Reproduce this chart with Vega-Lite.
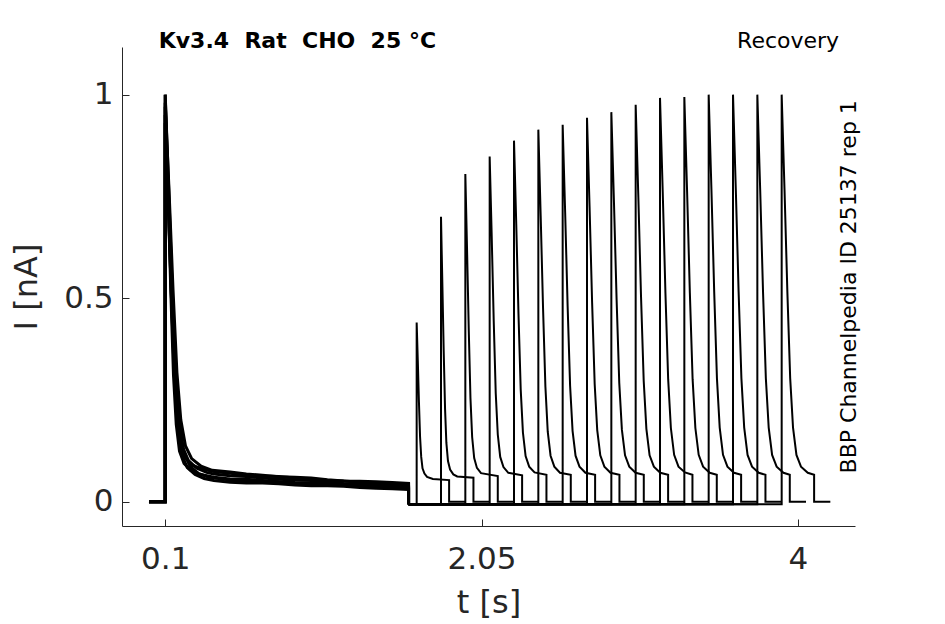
{
  "$schema": "https://vega.github.io/schema/vega-lite/v6.json",
  "width": 733,
  "height": 479,
  "autosize": {"type": "none"},
  "padding": {"left": 122, "top": 47, "right": 90, "bottom": 98},
  "background": "white",
  "config": {
    "view": {"stroke": null},
    "axis": {
      "grid": false,
      "domainColor": "#262626",
      "domainWidth": 1,
      "tickColor": "#262626",
      "tickWidth": 1,
      "tickSize": -7,
      "labelFont": "DejaVu Sans",
      "labelFontSize": 31,
      "labelColor": "#262626",
      "titleFont": "DejaVu Sans",
      "titleFontSize": 32,
      "titleFontWeight": "normal",
      "titleColor": "#262626"
    }
  },
  "datasets": {
    "traces": [
      {"trace":"f1","n":0,"t":0,"i":0},{"trace":"f1","n":1,"t":0.1,"i":0},{"trace":"f1","n":2,"t":0.1,"i":1.0},{"trace":"f1","n":3,"t":0.117,"i":0.771},{"trace":"f1","n":4,"t":0.134,"i":0.523},{"trace":"f1","n":5,"t":0.151,"i":0.311},{"trace":"f1","n":6,"t":0.168,"i":0.19},{"trace":"f1","n":7,"t":0.188,"i":0.124},{"trace":"f1","n":8,"t":0.216,"i":0.094},{"trace":"f1","n":9,"t":0.256,"i":0.078},{"trace":"f1","n":10,"t":0.304,"i":0.068},{"trace":"f1","n":11,"t":0.4,"i":0.06},{"trace":"f1","n":12,"t":0.5,"i":0.056},{"trace":"f1","n":13,"t":0.6,"i":0.055},{"trace":"f1","n":14,"t":0.7,"i":0.052},{"trace":"f1","n":15,"t":0.8,"i":0.049},{"trace":"f1","n":16,"t":0.9,"i":0.047},{"trace":"f1","n":17,"t":1.0,"i":0.046},{"trace":"f1","n":18,"t":1.1,"i":0.044},{"trace":"f1","n":19,"t":1.2,"i":0.041},{"trace":"f1","n":20,"t":1.3,"i":0.04},{"trace":"f1","n":21,"t":1.4,"i":0.039},{"trace":"f1","n":22,"t":1.5,"i":0.037},{"trace":"f1","n":23,"t":1.6,"i":0.035},{"trace":"f1","n":24,"t":1.6,"i":-0.006},
      {"trace":"f2","n":0,"t":0,"i":0},{"trace":"f2","n":1,"t":0.1,"i":0},{"trace":"f2","n":2,"t":0.1,"i":0.97},{"trace":"f2","n":3,"t":0.1185,"i":0.752},{"trace":"f2","n":4,"t":0.137,"i":0.516},{"trace":"f2","n":5,"t":0.1555,"i":0.314},{"trace":"f2","n":6,"t":0.174,"i":0.198},{"trace":"f2","n":7,"t":0.196,"i":0.136},{"trace":"f2","n":8,"t":0.226,"i":0.107},{"trace":"f2","n":9,"t":0.27,"i":0.089},{"trace":"f2","n":10,"t":0.322,"i":0.081},{"trace":"f2","n":11,"t":0.4,"i":0.074},{"trace":"f2","n":12,"t":0.5,"i":0.07},{"trace":"f2","n":13,"t":0.6,"i":0.065},{"trace":"f2","n":14,"t":0.7,"i":0.063},{"trace":"f2","n":15,"t":0.8,"i":0.062},{"trace":"f2","n":16,"t":0.9,"i":0.058},{"trace":"f2","n":17,"t":1.0,"i":0.054},{"trace":"f2","n":18,"t":1.1,"i":0.052},{"trace":"f2","n":19,"t":1.2,"i":0.051},{"trace":"f2","n":20,"t":1.3,"i":0.048},{"trace":"f2","n":21,"t":1.4,"i":0.045},{"trace":"f2","n":22,"t":1.5,"i":0.045},{"trace":"f2","n":23,"t":1.6,"i":0.043},{"trace":"f2","n":24,"t":1.6,"i":-0.006},
      {"trace":"f3","n":0,"t":0,"i":0},{"trace":"f3","n":1,"t":0.1,"i":0},{"trace":"f3","n":2,"t":0.1,"i":0.93},{"trace":"f3","n":3,"t":0.12,"i":0.717},{"trace":"f3","n":4,"t":0.14,"i":0.485},{"trace":"f3","n":5,"t":0.16,"i":0.288},{"trace":"f3","n":6,"t":0.18,"i":0.175},{"trace":"f3","n":7,"t":0.204,"i":0.113},{"trace":"f3","n":8,"t":0.236,"i":0.084},{"trace":"f3","n":9,"t":0.284,"i":0.067},{"trace":"f3","n":10,"t":0.34,"i":0.057},{"trace":"f3","n":11,"t":0.4,"i":0.052},{"trace":"f3","n":12,"t":0.5,"i":0.048},{"trace":"f3","n":13,"t":0.6,"i":0.046},{"trace":"f3","n":14,"t":0.7,"i":0.046},{"trace":"f3","n":15,"t":0.8,"i":0.044},{"trace":"f3","n":16,"t":0.9,"i":0.041},{"trace":"f3","n":17,"t":1.0,"i":0.039},{"trace":"f3","n":18,"t":1.1,"i":0.039},{"trace":"f3","n":19,"t":1.2,"i":0.038},{"trace":"f3","n":20,"t":1.3,"i":0.035},{"trace":"f3","n":21,"t":1.4,"i":0.033},{"trace":"f3","n":22,"t":1.5,"i":0.032},{"trace":"f3","n":23,"t":1.6,"i":0.03},{"trace":"f3","n":24,"t":1.6,"i":-0.006},
      {"trace":"f4","n":0,"t":0,"i":0},{"trace":"f4","n":1,"t":0.1,"i":0},{"trace":"f4","n":2,"t":0.1,"i":1.0},{"trace":"f4","n":3,"t":0.121,"i":0.773},{"trace":"f4","n":4,"t":0.1425,"i":0.527},{"trace":"f4","n":5,"t":0.164,"i":0.317},{"trace":"f4","n":6,"t":0.185,"i":0.197},{"trace":"f4","n":7,"t":0.2105,"i":0.131},{"trace":"f4","n":8,"t":0.2445,"i":0.1},{"trace":"f4","n":9,"t":0.2955,"i":0.082},{"trace":"f4","n":10,"t":0.355,"i":0.072},{"trace":"f4","n":11,"t":0.4,"i":0.068},{"trace":"f4","n":12,"t":0.5,"i":0.064},{"trace":"f4","n":13,"t":0.6,"i":0.062},{"trace":"f4","n":14,"t":0.7,"i":0.058},{"trace":"f4","n":15,"t":0.8,"i":0.055},{"trace":"f4","n":16,"t":0.9,"i":0.053},{"trace":"f4","n":17,"t":1.0,"i":0.052},{"trace":"f4","n":18,"t":1.1,"i":0.048},{"trace":"f4","n":19,"t":1.2,"i":0.045},{"trace":"f4","n":20,"t":1.3,"i":0.044},{"trace":"f4","n":21,"t":1.4,"i":0.043},{"trace":"f4","n":22,"t":1.5,"i":0.041},{"trace":"f4","n":23,"t":1.6,"i":0.039},{"trace":"f4","n":24,"t":1.6,"i":-0.006},
      {"trace":"f5","n":0,"t":0,"i":0},{"trace":"f5","n":1,"t":0.1,"i":0},{"trace":"f5","n":2,"t":0.1,"i":0.95},{"trace":"f5","n":3,"t":0.1225,"i":0.733},{"trace":"f5","n":4,"t":0.145,"i":0.498},{"trace":"f5","n":5,"t":0.1675,"i":0.296},{"trace":"f5","n":6,"t":0.19,"i":0.181},{"trace":"f5","n":7,"t":0.217,"i":0.118},{"trace":"f5","n":8,"t":0.253,"i":0.087},{"trace":"f5","n":9,"t":0.307,"i":0.069},{"trace":"f5","n":10,"t":0.37,"i":0.06},{"trace":"f5","n":11,"t":0.5,"i":0.053},{"trace":"f5","n":12,"t":0.6,"i":0.05},{"trace":"f5","n":13,"t":0.7,"i":0.05},{"trace":"f5","n":14,"t":0.8,"i":0.049},{"trace":"f5","n":15,"t":0.9,"i":0.045},{"trace":"f5","n":16,"t":1.0,"i":0.043},{"trace":"f5","n":17,"t":1.1,"i":0.042},{"trace":"f5","n":18,"t":1.2,"i":0.041},{"trace":"f5","n":19,"t":1.3,"i":0.038},{"trace":"f5","n":20,"t":1.4,"i":0.036},{"trace":"f5","n":21,"t":1.5,"i":0.035},{"trace":"f5","n":22,"t":1.6,"i":0.033},{"trace":"f5","n":23,"t":1.6,"i":-0.006},
      {"trace":"f6","n":0,"t":0,"i":0},{"trace":"f6","n":1,"t":0.1,"i":0},{"trace":"f6","n":2,"t":0.1,"i":0.98},{"trace":"f6","n":3,"t":0.124,"i":0.76},{"trace":"f6","n":4,"t":0.148,"i":0.522},{"trace":"f6","n":5,"t":0.172,"i":0.318},{"trace":"f6","n":6,"t":0.196,"i":0.201},{"trace":"f6","n":7,"t":0.225,"i":0.137},{"trace":"f6","n":8,"t":0.263,"i":0.106},{"trace":"f6","n":9,"t":0.321,"i":0.087},{"trace":"f6","n":10,"t":0.39,"i":0.077},{"trace":"f6","n":11,"t":0.5,"i":0.073},{"trace":"f6","n":12,"t":0.6,"i":0.068},{"trace":"f6","n":13,"t":0.7,"i":0.065},{"trace":"f6","n":14,"t":0.8,"i":0.061},{"trace":"f6","n":15,"t":0.9,"i":0.06},{"trace":"f6","n":16,"t":1.0,"i":0.058},{"trace":"f6","n":17,"t":1.1,"i":0.054},{"trace":"f6","n":18,"t":1.2,"i":0.051},{"trace":"f6","n":19,"t":1.3,"i":0.05},{"trace":"f6","n":20,"t":1.4,"i":0.049},{"trace":"f6","n":21,"t":1.5,"i":0.047},{"trace":"f6","n":22,"t":1.6,"i":0.045},{"trace":"f6","n":23,"t":1.6,"i":-0.006},
      {"trace":"s01","n":0,"t":1.6,"i":-0.006},{"trace":"s01","n":1,"t":1.65,"i":-0.006},{"trace":"s01","n":2,"t":1.65,"i":0.44},{"trace":"s01","n":3,"t":1.657,"i":0.346},{"trace":"s01","n":4,"t":1.664,"i":0.245},{"trace":"s01","n":5,"t":1.671,"i":0.159},{"trace":"s01","n":6,"t":1.678,"i":0.11},{"trace":"s01","n":7,"t":1.686,"i":0.082},{"trace":"s01","n":8,"t":1.698,"i":0.069},{"trace":"s01","n":9,"t":1.714,"i":0.061},{"trace":"s01","n":10,"t":1.75,"i":0.056},{"trace":"s01","n":11,"t":1.85,"i":0.053},{"trace":"s01","n":12,"t":1.85,"i":0},{"trace":"s01","n":13,"t":1.95,"i":0},
      {"trace":"s02","n":0,"t":1.6,"i":-0.006},{"trace":"s02","n":1,"t":1.8,"i":-0.006},{"trace":"s02","n":2,"t":1.8,"i":0.7},{"trace":"s02","n":3,"t":1.808,"i":0.542},{"trace":"s02","n":4,"t":1.8165,"i":0.372},{"trace":"s02","n":5,"t":1.825,"i":0.228},{"trace":"s02","n":6,"t":1.833,"i":0.145},{"trace":"s02","n":7,"t":1.843,"i":0.1},{"trace":"s02","n":8,"t":1.856,"i":0.079},{"trace":"s02","n":9,"t":1.876,"i":0.067},{"trace":"s02","n":10,"t":1.9,"i":0.062},{"trace":"s02","n":11,"t":2.0,"i":0.059},{"trace":"s02","n":12,"t":2.0,"i":0},{"trace":"s02","n":13,"t":2.1,"i":0},
      {"trace":"s03","n":0,"t":1.6,"i":-0.006},{"trace":"s03","n":1,"t":1.95,"i":-0.006},{"trace":"s03","n":2,"t":1.95,"i":0.805},{"trace":"s03","n":3,"t":1.9605,"i":0.621},{"trace":"s03","n":4,"t":1.971,"i":0.424},{"trace":"s03","n":5,"t":1.9815,"i":0.255},{"trace":"s03","n":6,"t":1.992,"i":0.159},{"trace":"s03","n":7,"t":2.0046,"i":0.107},{"trace":"s03","n":8,"t":2.0214,"i":0.083},{"trace":"s03","n":9,"t":2.0466,"i":0.07},{"trace":"s03","n":10,"t":2.15,"i":0.063},{"trace":"s03","n":11,"t":2.15,"i":0},{"trace":"s03","n":12,"t":2.25,"i":0},
      {"trace":"s04","n":0,"t":1.6,"i":-0.006},{"trace":"s04","n":1,"t":2.1,"i":-0.006},{"trace":"s04","n":2,"t":2.1,"i":0.848},{"trace":"s04","n":3,"t":2.1125,"i":0.653},{"trace":"s04","n":4,"t":2.125,"i":0.444},{"trace":"s04","n":5,"t":2.1375,"i":0.266},{"trace":"s04","n":6,"t":2.15,"i":0.165},{"trace":"s04","n":7,"t":2.165,"i":0.11},{"trace":"s04","n":8,"t":2.185,"i":0.085},{"trace":"s04","n":9,"t":2.215,"i":0.071},{"trace":"s04","n":10,"t":2.3,"i":0.065},{"trace":"s04","n":11,"t":2.3,"i":0},{"trace":"s04","n":12,"t":2.4,"i":0},
      {"trace":"s05","n":0,"t":1.6,"i":-0.006},{"trace":"s05","n":1,"t":2.25,"i":-0.006},{"trace":"s05","n":2,"t":2.25,"i":0.887},{"trace":"s05","n":3,"t":2.2638,"i":0.683},{"trace":"s05","n":4,"t":2.2775,"i":0.463},{"trace":"s05","n":5,"t":2.2913,"i":0.276},{"trace":"s05","n":6,"t":2.305,"i":0.17},{"trace":"s05","n":7,"t":2.3215,"i":0.112},{"trace":"s05","n":8,"t":2.3435,"i":0.086},{"trace":"s05","n":9,"t":2.3765,"i":0.072},{"trace":"s05","n":10,"t":2.45,"i":0.066},{"trace":"s05","n":11,"t":2.45,"i":0},{"trace":"s05","n":12,"t":2.55,"i":0},
      {"trace":"s06","n":0,"t":1.6,"i":-0.006},{"trace":"s06","n":1,"t":2.4,"i":-0.006},{"trace":"s06","n":2,"t":2.4,"i":0.914},{"trace":"s06","n":3,"t":2.4145,"i":0.702},{"trace":"s06","n":4,"t":2.429,"i":0.476},{"trace":"s06","n":5,"t":2.4435,"i":0.283},{"trace":"s06","n":6,"t":2.458,"i":0.172},{"trace":"s06","n":7,"t":2.4754,"i":0.113},{"trace":"s06","n":8,"t":2.4986,"i":0.086},{"trace":"s06","n":9,"t":2.5334,"i":0.071},{"trace":"s06","n":10,"t":2.6,"i":0.066},{"trace":"s06","n":11,"t":2.6,"i":0},{"trace":"s06","n":12,"t":2.7,"i":0},
      {"trace":"s07","n":0,"t":1.6,"i":-0.006},{"trace":"s07","n":1,"t":2.55,"i":-0.006},{"trace":"s07","n":2,"t":2.55,"i":0.926},{"trace":"s07","n":3,"t":2.5653,"i":0.711},{"trace":"s07","n":4,"t":2.5805,"i":0.481},{"trace":"s07","n":5,"t":2.5958,"i":0.285},{"trace":"s07","n":6,"t":2.611,"i":0.174},{"trace":"s07","n":7,"t":2.6293,"i":0.113},{"trace":"s07","n":8,"t":2.6537,"i":0.086},{"trace":"s07","n":9,"t":2.6903,"i":0.071},{"trace":"s07","n":10,"t":2.75,"i":0.066},{"trace":"s07","n":11,"t":2.75,"i":0},{"trace":"s07","n":12,"t":2.85,"i":0},
      {"trace":"s08","n":0,"t":1.6,"i":-0.006},{"trace":"s08","n":1,"t":2.7,"i":-0.006},{"trace":"s08","n":2,"t":2.7,"i":0.943},{"trace":"s08","n":3,"t":2.7158,"i":0.724},{"trace":"s08","n":4,"t":2.7315,"i":0.489},{"trace":"s08","n":5,"t":2.7473,"i":0.289},{"trace":"s08","n":6,"t":2.763,"i":0.176},{"trace":"s08","n":7,"t":2.7819,"i":0.114},{"trace":"s08","n":8,"t":2.8071,"i":0.086},{"trace":"s08","n":9,"t":2.8449,"i":0.071},{"trace":"s08","n":10,"t":2.9,"i":0.066},{"trace":"s08","n":11,"t":2.9,"i":0},{"trace":"s08","n":12,"t":3.0,"i":0},
      {"trace":"s09","n":0,"t":1.6,"i":-0.006},{"trace":"s09","n":1,"t":2.85,"i":-0.006},{"trace":"s09","n":2,"t":2.85,"i":0.957},{"trace":"s09","n":3,"t":2.8663,"i":0.734},{"trace":"s09","n":4,"t":2.8825,"i":0.496},{"trace":"s09","n":5,"t":2.8988,"i":0.292},{"trace":"s09","n":6,"t":2.915,"i":0.177},{"trace":"s09","n":7,"t":2.9345,"i":0.114},{"trace":"s09","n":8,"t":2.9605,"i":0.086},{"trace":"s09","n":9,"t":2.9995,"i":0.071},{"trace":"s09","n":10,"t":3.05,"i":0.066},{"trace":"s09","n":11,"t":3.05,"i":0},{"trace":"s09","n":12,"t":3.15,"i":0},
      {"trace":"s10","n":0,"t":1.6,"i":-0.006},{"trace":"s10","n":1,"t":3.0,"i":-0.006},{"trace":"s10","n":2,"t":3.0,"i":0.975},{"trace":"s10","n":3,"t":3.0165,"i":0.748},{"trace":"s10","n":4,"t":3.033,"i":0.504},{"trace":"s10","n":5,"t":3.0495,"i":0.297},{"trace":"s10","n":6,"t":3.066,"i":0.179},{"trace":"s10","n":7,"t":3.0858,"i":0.114},{"trace":"s10","n":8,"t":3.1122,"i":0.086},{"trace":"s10","n":9,"t":3.1518,"i":0.071},{"trace":"s10","n":10,"t":3.2,"i":0.066},{"trace":"s10","n":11,"t":3.2,"i":0},{"trace":"s10","n":12,"t":3.3,"i":0},
      {"trace":"s11","n":0,"t":1.6,"i":-0.006},{"trace":"s11","n":1,"t":3.15,"i":-0.006},{"trace":"s11","n":2,"t":3.15,"i":0.992},{"trace":"s11","n":3,"t":3.1668,"i":0.761},{"trace":"s11","n":4,"t":3.1835,"i":0.512},{"trace":"s11","n":5,"t":3.2003,"i":0.301},{"trace":"s11","n":6,"t":3.217,"i":0.181},{"trace":"s11","n":7,"t":3.2371,"i":0.115},{"trace":"s11","n":8,"t":3.2639,"i":0.086},{"trace":"s11","n":9,"t":3.3041,"i":0.072},{"trace":"s11","n":10,"t":3.35,"i":0.066},{"trace":"s11","n":11,"t":3.35,"i":0},{"trace":"s11","n":12,"t":3.45,"i":0},
      {"trace":"s12","n":0,"t":1.6,"i":-0.006},{"trace":"s12","n":1,"t":3.3,"i":-0.006},{"trace":"s12","n":2,"t":3.3,"i":0.994},{"trace":"s12","n":3,"t":3.317,"i":0.762},{"trace":"s12","n":4,"t":3.334,"i":0.513},{"trace":"s12","n":5,"t":3.351,"i":0.301},{"trace":"s12","n":6,"t":3.368,"i":0.181},{"trace":"s12","n":7,"t":3.3884,"i":0.115},{"trace":"s12","n":8,"t":3.4156,"i":0.086},{"trace":"s12","n":9,"t":3.4564,"i":0.071},{"trace":"s12","n":10,"t":3.5,"i":0.066},{"trace":"s12","n":11,"t":3.5,"i":0},{"trace":"s12","n":12,"t":3.6,"i":0},
      {"trace":"s13","n":0,"t":1.6,"i":-0.006},{"trace":"s13","n":1,"t":3.45,"i":-0.006},{"trace":"s13","n":2,"t":3.45,"i":1.0},{"trace":"s13","n":3,"t":3.467,"i":0.767},{"trace":"s13","n":4,"t":3.484,"i":0.516},{"trace":"s13","n":5,"t":3.501,"i":0.303},{"trace":"s13","n":6,"t":3.518,"i":0.182},{"trace":"s13","n":7,"t":3.5384,"i":0.115},{"trace":"s13","n":8,"t":3.5656,"i":0.086},{"trace":"s13","n":9,"t":3.6064,"i":0.071},{"trace":"s13","n":10,"t":3.65,"i":0.066},{"trace":"s13","n":11,"t":3.65,"i":0},{"trace":"s13","n":12,"t":3.75,"i":0},
      {"trace":"s14","n":0,"t":1.6,"i":-0.006},{"trace":"s14","n":1,"t":3.6,"i":-0.006},{"trace":"s14","n":2,"t":3.6,"i":1.0},{"trace":"s14","n":3,"t":3.6173,"i":0.767},{"trace":"s14","n":4,"t":3.6345,"i":0.516},{"trace":"s14","n":5,"t":3.6518,"i":0.303},{"trace":"s14","n":6,"t":3.669,"i":0.182},{"trace":"s14","n":7,"t":3.6897,"i":0.115},{"trace":"s14","n":8,"t":3.7173,"i":0.086},{"trace":"s14","n":9,"t":3.7587,"i":0.071},{"trace":"s14","n":10,"t":3.8,"i":0.066},{"trace":"s14","n":11,"t":3.8,"i":0},{"trace":"s14","n":12,"t":3.9,"i":0},
      {"trace":"s15","n":0,"t":1.6,"i":-0.006},{"trace":"s15","n":1,"t":3.75,"i":-0.006},{"trace":"s15","n":2,"t":3.75,"i":1.0},{"trace":"s15","n":3,"t":3.7675,"i":0.767},{"trace":"s15","n":4,"t":3.785,"i":0.516},{"trace":"s15","n":5,"t":3.8025,"i":0.303},{"trace":"s15","n":6,"t":3.82,"i":0.182},{"trace":"s15","n":7,"t":3.841,"i":0.115},{"trace":"s15","n":8,"t":3.869,"i":0.086},{"trace":"s15","n":9,"t":3.911,"i":0.071},{"trace":"s15","n":10,"t":3.95,"i":0.066},{"trace":"s15","n":11,"t":3.95,"i":0},{"trace":"s15","n":12,"t":4.05,"i":0},
      {"trace":"s16","n":0,"t":1.6,"i":-0.006},{"trace":"s16","n":1,"t":3.9,"i":-0.006},{"trace":"s16","n":2,"t":3.9,"i":1.0},{"trace":"s16","n":3,"t":3.9175,"i":0.767},{"trace":"s16","n":4,"t":3.935,"i":0.516},{"trace":"s16","n":5,"t":3.9525,"i":0.303},{"trace":"s16","n":6,"t":3.97,"i":0.182},{"trace":"s16","n":7,"t":3.991,"i":0.115},{"trace":"s16","n":8,"t":4.019,"i":0.086},{"trace":"s16","n":9,"t":4.061,"i":0.071},{"trace":"s16","n":10,"t":4.1,"i":0.066},{"trace":"s16","n":11,"t":4.1,"i":0},{"trace":"s16","n":12,"t":4.2,"i":0}
    ],
    "notes": [
      {"label": "Kv3.4\u00a0\u00a0Rat\u00a0\u00a0CHO\u00a0\u00a025 °C", "kind": "title"},
      {"label": "Recovery", "kind": "protocol"},
      {"label": "BBP Channelpedia ID 25137 rep 1", "kind": "source"}
    ]
  },
  "layer": [
    {
      "data": {"name": "traces"},
      "transform": [{"filter": "indexof(datum.trace, 's') === 0"}],
      "mark": {"type": "line", "color": "black", "strokeWidth": 2},
      "encoding": {
        "x": {
          "field": "t",
          "type": "quantitative",
          "scale": {"domain": [-0.1664, 4.352], "nice": false, "zero": false},
          "axis": {"values": [0.1, 2.05, 4], "format": ".3~g", "title": "t [s]", "labelPadding": 25, "titlePadding": 13}
        },
        "y": {
          "field": "i",
          "type": "quantitative",
          "scale": {"domain": [-0.0597, 1.117], "nice": false, "zero": false},
          "axis": {"values": [0, 0.5, 1], "format": ".2~g", "title": "I [nA]", "labelPadding": 16, "titlePadding": 20}
        },
        "detail": {"field": "trace", "type": "nominal"},
        "order": {"field": "n", "type": "quantitative"}
      }
    },
    {
      "data": {"name": "traces"},
      "transform": [{"filter": "indexof(datum.trace, 'f') === 0"}],
      "mark": {"type": "line", "color": "black", "strokeWidth": 3},
      "encoding": {
        "x": {"field": "t", "type": "quantitative"},
        "y": {"field": "i", "type": "quantitative"},
        "detail": {"field": "trace", "type": "nominal"},
        "order": {"field": "n", "type": "quantitative"}
      }
    },
    {
      "data": {"name": "notes"},
      "transform": [{"filter": "datum.kind === 'title'"}],
      "mark": {"type": "text", "font": "DejaVu Sans", "fontWeight": "bold", "fontSize": 22, "align": "left", "baseline": "alphabetic", "color": "black"},
      "encoding": {
        "x": {"datum": 0.06},
        "y": {"datum": 1.115},
        "text": {"field": "label", "type": "nominal"}
      }
    },
    {
      "data": {"name": "notes"},
      "transform": [{"filter": "datum.kind === 'protocol'"}],
      "mark": {"type": "text", "font": "DejaVu Sans", "fontSize": 22, "align": "right", "baseline": "alphabetic", "color": "black"},
      "encoding": {
        "x": {"datum": 4.254},
        "y": {"datum": 1.115},
        "text": {"field": "label", "type": "nominal"}
      }
    },
    {
      "data": {"name": "notes"},
      "transform": [{"filter": "datum.kind === 'source'"}],
      "mark": {"type": "text", "font": "DejaVu Sans", "fontSize": 22, "align": "center", "baseline": "alphabetic", "angle": 270, "color": "black"},
      "encoding": {
        "x": {"datum": 4.36},
        "y": {"datum": 0.528},
        "text": {"field": "label", "type": "nominal"}
      }
    }
  ]
}
